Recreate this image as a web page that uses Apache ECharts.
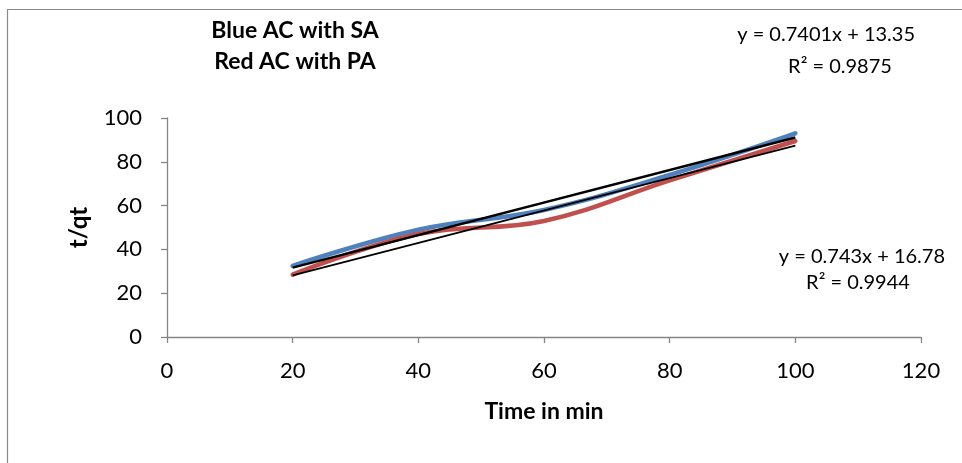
<!DOCTYPE html>
<html>
<head>
<meta charset="utf-8">
<script src="https://cdn.jsdelivr.net/npm/echarts@6/dist/echarts.min.js"></script>
<style>
html,body{margin:0;padding:0;background:#fff;}
#chart{width:962px;height:463px;}
</style>
</head>
<body>
<div id="chart"></div>
<script>
const times = [20, 40, 60, 80, 100];
const blueSA = [32.5, 49, 58, 74, 93];
const redPA = [28.5, 47, 53, 71.5, 89.5];
const blueTrend = [0.743, 16.78];   // slope, intercept
const redTrend = [0.7401, 13.35];
const xTicks = [0, 20, 40, 60, 80, 100, 120];
const yTicks = [0, 20, 40, 60, 80, 100];

const FONT = 'Lato, "Open Sans", sans-serif';
const trendPts = (c) => [[times[0], c[0]*times[0]+c[1]], [times[times.length-1], c[0]*times[times.length-1]+c[1]]];

const chart = echarts.init(document.getElementById('chart'));
chart.setOption({
  animation: false,
  backgroundColor: '#fff',
  grid: {left: 167, top: 118, width: 754, height: 219, containLabel: false},
  xAxis: {
    type: 'value', min: xTicks[0], max: xTicks[xTicks.length-1], interval: 20,
    name: 'Time in min', nameLocation: 'middle', nameGap: 63,
    nameTextStyle: {fontFamily: FONT, fontWeight: 'bold', fontSize: 23, color: '#000'},
    axisLine: {lineStyle: {color: '#868686', width: 1.3}},
    axisTick: {show: true, length: 6, lineStyle: {color: '#868686', width: 1.3}},
    axisLabel: {fontFamily: FONT, fontSize: 22, color: '#000', margin: 23},
    splitLine: {show: false}
  },
  yAxis: {
    type: 'value', min: yTicks[0], max: yTicks[yTicks.length-1], interval: 20,
    name: 't/qt', nameLocation: 'middle', nameGap: 76, nameRotate: 90,
    nameTextStyle: {fontFamily: FONT, fontWeight: 'bold', fontSize: 24, color: '#000'},
    axisLine: {show: true, lineStyle: {color: '#868686', width: 1.3}},
    axisTick: {show: true, length: 6, lineStyle: {color: '#868686', width: 1.3}},
    axisLabel: {fontFamily: FONT, fontSize: 22, color: '#000', margin: 25},
    splitLine: {show: false}
  },
  series: [
    {type: 'line', data: times.map((t,i)=>[t, blueSA[i]]), smooth: 0.4, showSymbol: false,
     lineStyle: {color: '#4F81BD', width: 4.5, cap: 'round'}, z: 2},
    {type: 'line', data: times.map((t,i)=>[t, redPA[i]]), smooth: 0.4, showSymbol: false,
     lineStyle: {color: '#C0504D', width: 4.5, cap: 'round'}, z: 2},
    {type: 'line', data: trendPts(blueTrend), showSymbol: false,
     lineStyle: {color: '#000', width: 2.4}, z: 3},
    {type: 'line', data: trendPts(redTrend), showSymbol: false,
     lineStyle: {color: '#000', width: 1.8}, z: 3}
  ],
  graphic: [
    {type: 'rect', shape: {x: 7.5, y: 9.5, width: 1000, height: 1000}, style: {fill: 'none', stroke: '#8a8a8a', lineWidth: 1.2}, silent: true},
    {type: 'text', x: 295, y: 31, style: {text: 'Blue AC with SA', font: 'bold 23px ' + FONT, fill: '#000', align: 'center', verticalAlign: 'middle'}},
    {type: 'text', x: 295, y: 62, style: {text: 'Red AC with PA', font: 'bold 23px ' + FONT, fill: '#000', align: 'center', verticalAlign: 'middle'}},
    {type: 'text', x: 915, y: 35, style: {text: 'y = 0.7401x + 13.35', font: '20px ' + FONT, fill: '#000', align: 'right', verticalAlign: 'middle'}},
    {type: 'text', x: 840, y: 67, style: {text: 'R² = 0.9875', font: '20px ' + FONT, fill: '#000', align: 'center', verticalAlign: 'middle'}},
    {type: 'text', x: 945, y: 257, style: {text: 'y = 0.743x + 16.78', font: '20px ' + FONT, fill: '#000', align: 'right', verticalAlign: 'middle'}},
    {type: 'text', x: 858, y: 283, style: {text: 'R² = 0.9944', font: '20px ' + FONT, fill: '#000', align: 'center', verticalAlign: 'middle'}}
  ]
});
</script>
</body>
</html>
